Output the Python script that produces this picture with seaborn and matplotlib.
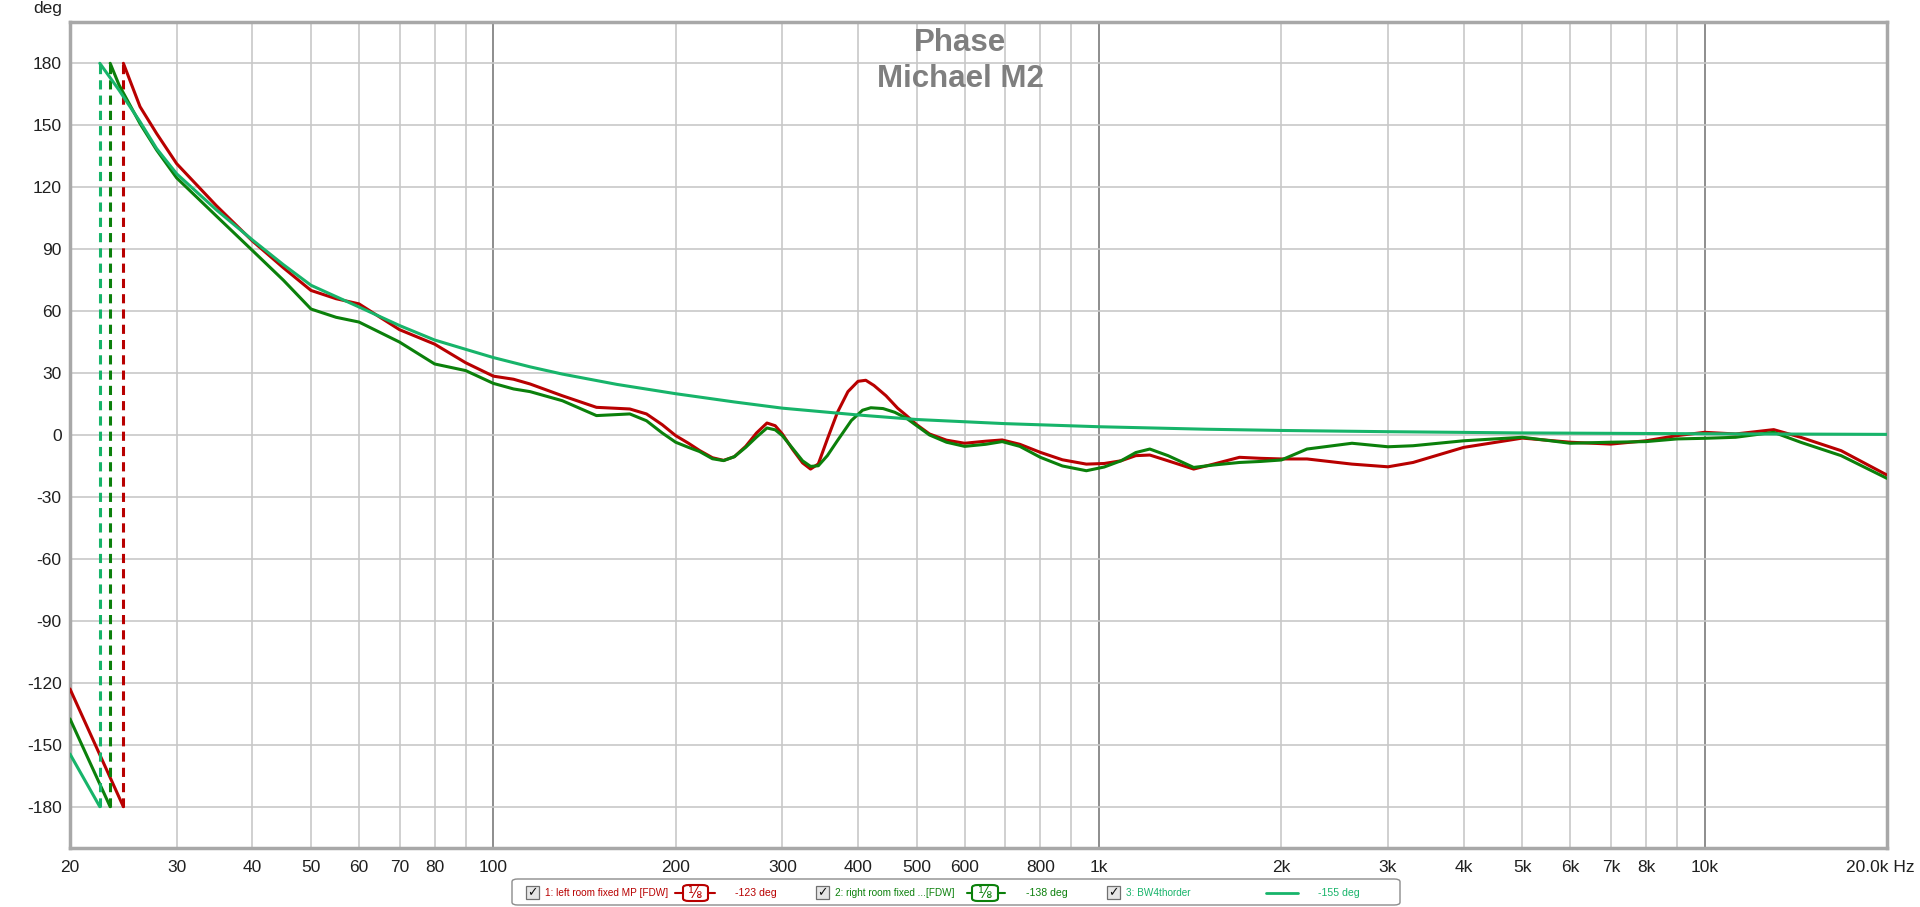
import matplotlib
matplotlib.use("Agg")
import matplotlib.pyplot as plt
from matplotlib.patches import FancyBboxPatch, Rectangle
from matplotlib.lines import Line2D
import seaborn as sns

# ---- data (Hz, deg) ----
# each trace wraps at -180/+180 once near 22-25 Hz
left_pre_f = [20, 24.5]
left_pre_deg = [-123, -180]
left_f = [24.5, 26.1, 27.8, 30, 34.9, 40, 45, 50, 55, 60, 70, 80, 90, 100, 108, 115, 130, 148,
          168, 179, 190, 200, 210, 219, 230, 240, 250, 261, 272, 283, 292, 300, 312, 324, 334,
          344, 356, 370, 385, 400, 412, 425, 445, 465, 481, 500, 525, 560, 600, 650, 692, 740,
          800, 870, 953, 1020, 1087, 1150, 1213, 1300, 1433, 1550, 1706, 1850, 2000, 2205, 2616,
          3000, 3300, 4000, 5000, 6000, 7000, 8000, 9000, 10000, 11250, 13000, 14400, 16800, 20000]
left_deg = [180, 159, 146, 131.4, 111, 94, 81, 70, 66, 63.5, 51, 44, 35, 28.5, 27, 24.7, 19, 13.4,
            12.6, 10.2, 5, -0.3, -4, -7.5, -11, -12.3, -10.5, -5.5, 1, 5.8, 4.5, 0.5, -7, -13.5, -16.5,
            -14, -2, 11, 21, 26, 26.5, 24, 19, 13, 9.4, 5, 0.5, -2.5, -4, -3, -2.4, -4.5,
            -8.4, -12, -14.1, -13.8, -12.5, -10, -9.7, -12.5, -16.5, -14, -10.8, -11.3, -11.6, -11.6, -14.1,
            -15.4, -13.3, -6, -1.5, -3.5, -4.4, -2.8, -0.3, 1.3, 0.5, 2.6, -1.1, -7.6, -19.4]

right_pre_f = [20, 23.3]
right_pre_deg = [-137.5, -180]
right_f = [23.3, 24.1, 26.1, 27.8, 30, 34.9, 40, 45, 50, 55, 60, 70, 80, 90, 100, 108, 115, 130,
           148, 168, 179, 190, 200, 210, 219, 230, 240, 250, 261, 272, 283, 292, 300, 312, 324, 334,
           344, 356, 370, 390, 407, 420, 440, 460, 481, 500, 525, 560, 600, 650, 692, 740,
           800, 870, 953, 1020, 1087, 1150, 1213, 1300, 1433, 1550, 1706, 1850, 2000, 2205, 2616,
           3000, 3300, 4000, 5000, 6000, 7000, 8000, 9000, 10000, 11250, 13000, 14400, 16800, 20000]
right_deg = [180, 169.5, 150.8, 138, 124.5, 106, 89.4, 75, 61, 57, 54.7, 45, 34.4, 31.2, 25, 22.3, 21, 16.6,
             9.4, 10.2, 6.9, 1, -3.5, -6, -8, -11.5, -12.4, -10.5, -6, -1, 3.4, 2.5, -0.3, -6.5, -12.5, -15.2,
             -14.9, -10, -2.7, 7, 12, 13.2, 12.8, 11, 8.1, 4.5, 0, -3.5, -5.5, -4.5, -3.2, -5.5,
             -10.8, -15, -17.3, -15.5, -12.5, -8.5, -6.8, -10, -15.7, -14.5, -13.3, -12.8, -12.1, -6.8, -4,
             -5.7, -5.2, -2.8, -1.1, -4, -3.5, -3.2, -1.9, -1.6, -1.1, 1.3, -3.5, -10, -21]

bw_pre_f = [20, 22.4]
bw_pre_deg = [-154.5, -180]
bw_f = [22.4, 24.1, 26.1, 27.8, 30, 34.9, 40, 45, 50, 60, 70, 80, 90, 100, 115, 130, 160, 200,
        250, 300, 400, 500, 700, 1000, 1500, 2000, 3000, 5000, 10000, 20000]
bw_deg = [180, 167, 151.7, 138.7, 126.5, 109, 94.5, 82.5, 72.5, 62, 53, 46, 41.5, 37.5, 33, 29.5, 24.5, 20,
          16, 13, 9.7, 7.5, 5.5, 4.0, 2.8, 2.2, 1.6, 1.0, 0.6, 0.3]

legend_names = ["1: left room fixed MP [FDW]", "2: right room fixed ...[FDW]", "3: BW4thorder"]
legend_values = ["-123 deg", "-138 deg", "-155 deg"]

x_ticks = [20, 30, 40, 50, 60, 70, 80, 100, 200, 300, 400, 500, 600, 800, 1000,
           2000, 3000, 4000, 5000, 6000, 7000, 8000, 10000]
x_labels = ["20", "30", "40", "50", "60", "70", "80", "100", "200", "300", "400", "500",
            "600", "800", "1k", "2k", "3k", "4k", "5k", "6k", "7k", "8k", "10k"]
y_ticks = [180, 150, 120, 90, 60, 30, 0, -30, -60, -90, -120, -150, -180]

RED = "#b80000"
DKGREEN = "#0b800b"
LTGREEN = "#17b46a"
colors = [RED, DKGREEN, LTGREEN]

sns.set_style("white")
plt.rcParams["font.family"] = ["Liberation Sans", "DejaVu Sans"]

W, H = 1920, 907
fig = plt.figure(figsize=(W / 100, H / 100), dpi=100)
ax = fig.add_axes([70 / W, 1 - 848 / H, (1887 - 70) / W, (848 - 22) / H])
ax.set_xscale("log")
ax.set_xlim(20, 20000)
ax.set_ylim(-200, 200)

# grid: light lines on every 1..9 step, darker at the decades
grid_f = [f * d for d in (10, 100, 1000) for f in range(1, 10)] + [10000]
for g in grid_f:
    if g <= 20:
        continue
    dark = g in (100, 1000, 10000)
    ax.axvline(g, color="#7a7a7a" if dark else "#c8c8c8", lw=1.2, zorder=0)
for yv in y_ticks:
    ax.axhline(yv, color="#c8c8c8", lw=1.2, zorder=0)

traces = [
    (left_pre_f, left_pre_deg, left_f, left_deg),
    (right_pre_f, right_pre_deg, right_f, right_deg),
    (bw_pre_f, bw_pre_deg, bw_f, bw_deg),
]
for (pf, pd_, f, d), c in zip(traces, colors):
    sns.lineplot(x=pf, y=pd_, ax=ax, color=c, lw=2.2, zorder=3, solid_joinstyle="round")
    sns.lineplot(x=f, y=d, ax=ax, color=c, lw=2.2, zorder=3, solid_joinstyle="round")
    # wrap from -180 back to +180
    ax.plot([f[0], f[0]], [-180, 180], color=c, lw=2.2, ls=(0, (3, 2)), zorder=3)

ax.set_xticks(x_ticks)
ax.set_xticklabels(x_labels)
ax.xaxis.set_minor_locator(matplotlib.ticker.NullLocator())
ax.set_yticks(y_ticks)
ax.set_yticklabels([str(v) for v in y_ticks])
ax.tick_params(axis="both", length=0, labelsize=12.5, colors="#202020")
ax.tick_params(axis="y", pad=6)
ax.tick_params(axis="x", pad=9)
ax.set_xlabel("")
ax.set_ylabel("")
for s in ax.spines.values():
    s.set_color("#a8a8a8")
    s.set_linewidth(2.5)

fig.text(1880 / W, 1 - 868 / H, "20.0k Hz", ha="center", va="center", fontsize=12.5, color="#202020")
fig.text(48 / W, 1 - 8 / H, "deg", ha="center", va="center", fontsize=12.5, color="#202020")

fig.text(960 / W, 1 - 43 / H, "Phase", ha="center", va="center", fontsize=22.5,
         fontweight="bold", color="#7f7f7f")
fig.text(960 / W, 1 - 79 / H, "Michael M2", ha="center", va="center", fontsize=22.5,
         fontweight="bold", color="#7f7f7f")

# ---- legend bar at the bottom ----
def fx(x):
    return x / W

def fy(y):
    return 1 - y / H

fig.patches.append(FancyBboxPatch((fx(512), fy(905)), fx(1400) - fx(512), fy(879) - fy(905),
                                  boxstyle="round,pad=0,rounding_size=0.003",
                                  transform=fig.transFigure, facecolor="white",
                                  edgecolor="#8c8c8c", lw=1.0))
yc = 893
cb_x = [526, 816, 1107]
name_x = [545, 835, 1126]
val_x = [735, 1026, 1318]
for i in range(3):
    fig.patches.append(Rectangle((fx(cb_x[i]), fy(899)), 13 / W, 13 / H, transform=fig.transFigure,
                                 facecolor="#e6e6e6", edgecolor="#707070", lw=0.9))
    fig.text(fx(cb_x[i] + 6.5), fy(yc), "\u2713", ha="center", va="center", fontsize=9,
             fontweight="bold", color="#101010", family=["DejaVu Sans"])
    fig.text(fx(name_x[i]), fy(yc), legend_names[i], ha="left", va="center", fontsize=7.2,
             color=colors[i])
    fig.text(fx(val_x[i]), fy(yc), legend_values[i], ha="left", va="center", fontsize=7.6,
             color=colors[i])

for (l0, b0, b1, l1), c in zip([(675, 683, 708, 715), (967, 972, 998, 1005)], colors[:2]):
    fig.lines.append(Line2D([fx(l0), fx(b0)], [fy(yc), fy(yc)], transform=fig.transFigure, color=c, lw=1.5))
    fig.lines.append(Line2D([fx(b1), fx(l1)], [fy(yc), fy(yc)], transform=fig.transFigure, color=c, lw=1.5))
    fig.patches.append(FancyBboxPatch((fx(b0), fy(901)), fx(b1) - fx(b0), fy(885) - fy(901),
                                      boxstyle="round,pad=0,rounding_size=0.003",
                                      transform=fig.transFigure, facecolor="white",
                                      edgecolor=c, lw=1.5))
    fig.text(fx((b0 + b1) / 2), fy(yc), "\u215b", ha="center", va="center", fontsize=10.5,
             color=c, family=["DejaVu Sans"])

fig.lines.append(Line2D([fx(1266), fx(1298)], [fy(yc), fy(yc)], transform=fig.transFigure,
                        color=LTGREEN, lw=2))

fig.savefig("out.png", dpi=100)
